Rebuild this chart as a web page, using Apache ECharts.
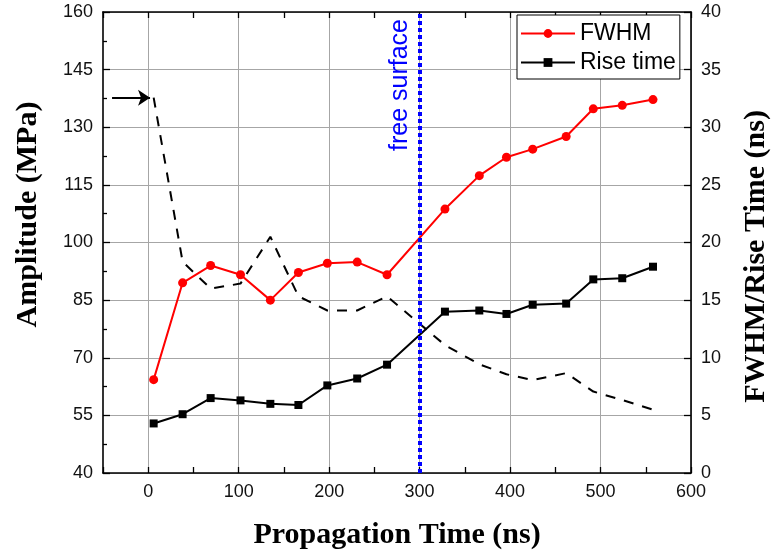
<!DOCTYPE html>
<html>
<head>
<meta charset="utf-8">
<script src="https://cdn.jsdelivr.net/npm/echarts@6/dist/echarts.min.js"></script>
<style>
html,body{margin:0;padding:0;background:#fff;}
#chart{width:771px;height:552px;}
</style>
</head>
<body>
<div id="chart"></div>
<script>
// Propagation time (ns)
var times = [6, 38, 69, 102, 135, 166, 198, 231, 264, 328, 366, 396, 425, 462, 492, 524, 558];
// FWHM (ns)
var fwhm = [8.1, 16.5, 18.0, 17.2, 15.0, 17.4, 18.2, 18.3, 17.2, 22.9, 25.8, 27.4, 28.1, 29.2, 31.6, 31.9, 32.4];
// Rise time (ns)
var riseTime = [4.3, 5.1, 6.5, 6.3, 6.0, 5.9, 7.6, 8.2, 9.4, 14.0, 14.1, 13.8, 14.6, 14.7, 16.8, 16.9, 17.9];
// Amplitude (MPa)
var amplitude = [137.7, 95.0, 88.0, 89.3, 101.5, 86.0, 82.3, 82.3, 86.0, 73.3, 68.3, 65.7, 64.2, 66.0, 61.2, 59.0, 56.5];
var freeSurfaceTime = 300;
var arrowFrom = -40, arrowTo = 2;

function pairs(xs, ys){ return xs.map(function(x,i){ return [x, ys[i]]; }); }

var chart = echarts.init(document.getElementById('chart'), null, {renderer:'canvas'});
var sans = 'Liberation Sans';
var serif = 'Liberation Serif';
var axisLineStyle = {color:'#000', width:1.6};

var option = {
  backgroundColor:'#fff',
  animation:false,
  grid:{left:103, right:80, top:12, bottom:79, containLabel:false, outerBoundsMode:'none'},
  legend:{
    data:['FWHM','Rise time'],
    orient:'vertical',
    left:517, top:15,
    padding:[7,4,5,3],
    itemGap:6,
    itemWidth:54, itemHeight:11,
    borderColor:'#000', borderWidth:1, backgroundColor:'#fff',
    textStyle:{fontFamily:sans, fontSize:23, color:'#000'}
  },
  xAxis:[{
    type:'value', position:'bottom',
    min:-50, max:600, interval:50,
    axisLine:{show:true, onZero:false, lineStyle:axisLineStyle},
    axisTick:{show:true, inside:true, length:6, lineStyle:{color:'#000', width:1.3}},
    axisLabel:{fontFamily:sans, fontSize:18, color:'#111', margin:10,
      formatter:function(v){ return (v % 100 === 0) ? String(v) : ''; }},
    splitLine:{show:true, lineStyle:{color:['rgba(0,0,0,0)','#a6a6a6'], width:1}},
    name:'Propagation Time (ns)', nameLocation:'middle', nameGap:47,
    nameTextStyle:{fontFamily:serif, fontWeight:'bold', fontSize:30, color:'#000'}
  },{
    type:'value', position:'top',
    min:-50, max:600, interval:50,
    axisLine:{show:true, onZero:false, lineStyle:axisLineStyle},
    axisTick:{show:true, inside:true, length:6, lineStyle:{color:'#000', width:1.3}},
    axisLabel:{show:false},
    splitLine:{show:false}
  }],
  yAxis:[{
    type:'value', position:'left',
    min:40, max:160, interval:15,
    axisLine:{show:true, onZero:false, lineStyle:axisLineStyle},
    axisTick:{show:true, inside:true, length:7, lineStyle:{color:'#000', width:1.3}},
    minorTick:{show:true, splitNumber:2, length:4, lineStyle:{color:'#000', width:1.3}},
    axisLabel:{fontFamily:sans, fontSize:18, color:'#111', margin:10},
    splitLine:{show:true, lineStyle:{color:'#a6a6a6', width:1}},
    name:'Amplitude (MPa)', nameLocation:'middle', nameGap:60, nameRotate:90,
    nameTextStyle:{fontFamily:serif, fontWeight:'bold', fontSize:30, color:'#000', padding:[0,0,0,56]}
  },{
    type:'value', position:'right',
    min:0, max:40, interval:5,
    axisLine:{show:true, onZero:false, lineStyle:axisLineStyle},
    axisTick:{show:true, inside:true, length:7, lineStyle:{color:'#000', width:1.3}},
    axisLabel:{fontFamily:sans, fontSize:18, color:'#111', margin:10},
    splitLine:{show:false},
    name:'FWHM/Rise Time (ns)', nameLocation:'middle', nameGap:50, nameRotate:90,
    nameTextStyle:{fontFamily:serif, fontWeight:'bold', fontSize:30, color:'#000', padding:[0,28,0,0]}
  }],
  series:[{
    name:'Amplitude', type:'line', xAxisIndex:0, yAxisIndex:0,
    data:pairs(times, amplitude),
    showSymbol:false, silent:true,
    lineStyle:{color:'#000', width:2, type:[10,9]},
    z:2,
    markLine:{
      silent:true, animation:false,
      symbol:['none','arrow'], symbolSize:12,
      label:{show:false},
      lineStyle:{color:'#000', width:2, type:'solid'},
      emphasis:{disabled:true},
      data:[[
        {coord:[arrowFrom, amplitude[0]], symbol:'none'},
        {coord:[arrowTo, amplitude[0]], symbol:'arrow', symbolSize:12}
      ]]
    }
  },{
    name:'FWHM', type:'line', xAxisIndex:0, yAxisIndex:1,
    data:pairs(times, fwhm),
    symbol:'circle', symbolSize:9,
    itemStyle:{color:'#ff0000'},
    lineStyle:{color:'#ff0000', width:2},
    z:4,
    markLine:{
      silent:true, animation:false,
      symbol:['none','none'],
      emphasis:{disabled:true},
      lineStyle:{color:'#0000ff', width:4, type:[4,3]},
      label:{show:true, formatter:'free surface', position:'insideEndTop',
        fontFamily:sans, fontSize:25, color:'#0000ff', distance:7},
      data:[{xAxis:freeSurfaceTime}]
    }
  },{
    name:'Rise time', type:'line', xAxisIndex:0, yAxisIndex:1,
    data:pairs(times, riseTime),
    symbol:'rect', symbolSize:8,
    itemStyle:{color:'#000'},
    lineStyle:{color:'#000', width:2},
    z:3
  }]
};
chart.setOption(option);
</script>
</body>
</html>
